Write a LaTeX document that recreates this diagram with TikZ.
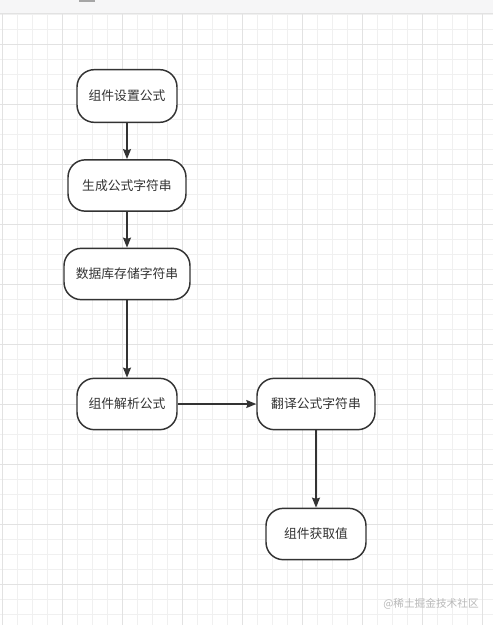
\documentclass[tikz,border=0pt]{standalone}
\usepackage{fontspec}
\setmainfont{Noto Sans CJK SC}
\usetikzlibrary{arrows.meta}

\definecolor{inkgray}{HTML}{333333}
\definecolor{minorgrid}{HTML}{F0F0F0}
\definecolor{majorgrid}{HTML}{E2E2E2}
\definecolor{barfill}{HTML}{F6F6F7}

\tikzset{
    flowbox/.style={draw=inkgray, line width=1.1pt, fill=white, rounded corners=13pt,
        minimum height=38.5pt, inner sep=2pt, text=inkgray,
        font=\fontsize{9.6}{12}\selectfont},
    flowarrow/.style={draw=inkgray, line width=1.1pt,
        -{Stealth[length=7.5pt, width=6pt, inset=1pt]}}
}

\begin{document}
\begin{tikzpicture}[x=0.75pt, y=-0.75pt]
    \useasboundingbox (0,0) rectangle (493,625);
    \fill[white] (0,0) rectangle (493,625);

    % --- BACKGROUND GRID ---
    \foreach \gx in {2.3,17.3,...,493} {
        \draw[minorgrid, line width=0.6pt] (\gx,13.3) -- (\gx,625);
    }
    \foreach \gy in {14.3,29.3,...,625} {
        \draw[minorgrid, line width=0.6pt] (0,\gy) -- (493,\gy);
    }
    \foreach \gx in {2.3,62.3,...,493} {
        \draw[majorgrid, line width=0.7pt] (\gx,13.3) -- (\gx,625);
    }
    \foreach \gy in {44.3,104.3,...,625} {
        \draw[majorgrid, line width=0.7pt] (0,\gy) -- (493,\gy);
    }

    % top bar
    \fill[barfill] (0,0) rectangle (493,13.3);
    \draw[majorgrid, line width=0.7pt] (0,13.3) -- (493,13.3);
    \fill[gray!70] (79,0) rectangle (95,2);

    % --- FLOW ---
    \node[flowbox, minimum width=75pt, minimum height=39.5pt] (setformula) at (127,96) {组件设置公式};
    \node[flowbox, minimum width=88.5pt] (genstring) at (127,185.5) {生成公式字符串};
    \node[flowbox, minimum width=94.5pt] (storestring) at (127,274) {数据库存储字符串};
    \node[flowbox, minimum width=75pt] (parseformula) at (127,404) {组件解析公式};
    \node[flowbox, minimum width=88.5pt] (transstring) at (316,404) {翻译公式字符串};
    \node[flowbox, minimum width=75pt] (getvalue) at (316,534) {组件获取值};

    \draw[flowarrow] (setformula) -- (genstring);
    \draw[flowarrow] (genstring) -- (storestring);
    \draw[flowarrow] (storestring) -- (parseformula);
    \draw[flowarrow] (parseformula) -- (transstring);
    \draw[flowarrow] (transstring) -- (getvalue);

    % watermark
    \node[text=gray!55, font=\fontsize{8}{10}\selectfont] (mark) at (431,604) {@稀土掘金技术社区};
\end{tikzpicture}
\end{document}
